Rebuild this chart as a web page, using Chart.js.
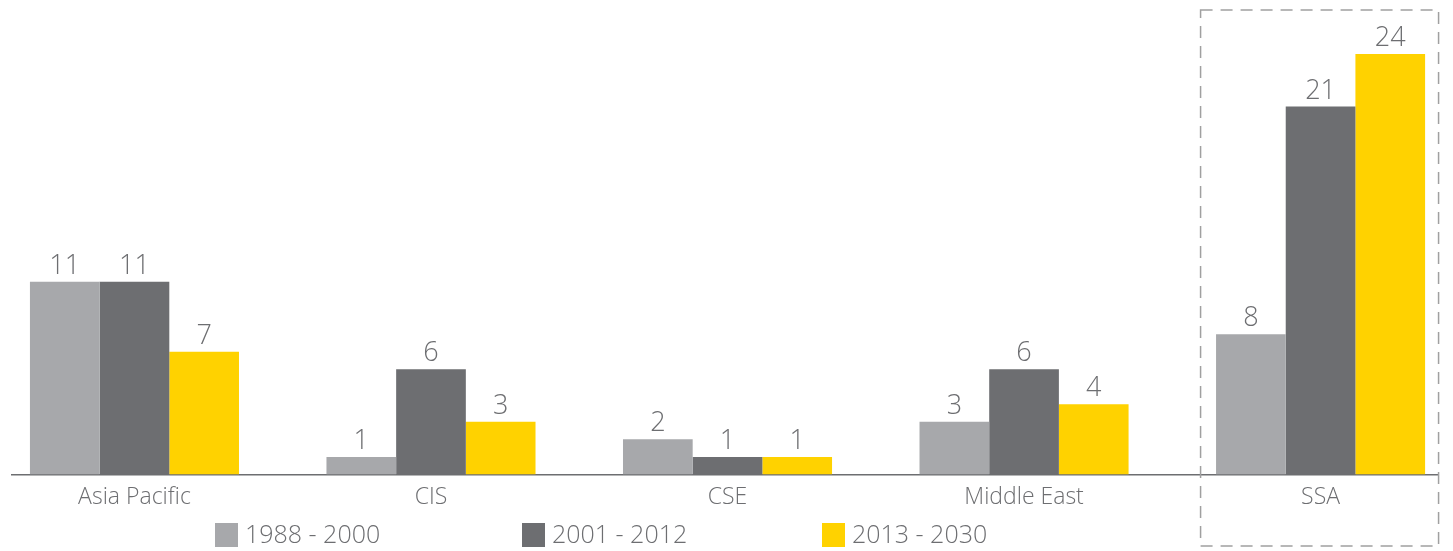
<!DOCTYPE html>
<html>
<head>
<meta charset="utf-8">
<script src="https://cdn.jsdelivr.net/npm/chart.js@4"></script>
<style>
  html, body { margin: 0; padding: 0; background: #fff; }
  #wrap { width: 1453px; height: 551px; position: relative; }
</style>
</head>
<body>
<div id="wrap"><canvas id="chart"></canvas></div>
<script>
// data
var categories = ["Asia Pacific", "CIS", "CSE", "Middle East", "SSA"];
var seriesNames = ["1988 - 2000", "2001 - 2012", "2013 - 2030"];
var values1988 = [11, 1, 2, 3, 8];
var values2001 = [11, 6, 1, 6, 21];
var values2013 = [7, 3, 1, 4, 24];
var highlighted = "SSA";

var colors = ["#a7a8ab", "#6d6e71", "#ffd200"];
var textColor = "#6d6e71";
var fontName = "'Open Sans'";

function toPoints(arr) {
  return arr.map(function (v, i) { return { x: i, y: v }; });
}

// numbers above the bars
var valueLabels = {
  id: "valueLabels",
  afterDatasetsDraw: function (chart) {
    var c = chart.ctx;
    c.save();
    c.font = "300 27px " + fontName;
    c.fillStyle = textColor;
    c.textAlign = "center";
    c.textBaseline = "alphabetic";
    chart.data.datasets.forEach(function (ds, di) {
      chart.getDatasetMeta(di).data.forEach(function (bar, i) {
        c.fillText(ds.data[i].y, bar.x, bar.y - 8);
      });
    });
    c.restore();
  }
};

// dashed frame round the highlighted category
var frameBox = {
  id: "frameBox",
  afterDraw: function (chart) {
    var c = chart.ctx;
    var x = chart.scales.x.getPixelForValue(categories.indexOf(highlighted));
    c.save();
    c.strokeStyle = "#a0a0a0";
    c.lineWidth = 1.5;
    c.setLineDash([12, 8]);
    c.strokeRect(x - 120, 10, 238, 536);
    c.restore();
  }
};

// legend drawn by hand so it sits left of centre like the original
var legendRow = {
  id: "legendRow",
  afterDraw: function (chart) {
    var c = chart.ctx;
    var starts = [215, 522, 822];
    c.save();
    c.font = "300 25px " + fontName;
    c.textBaseline = "middle";
    chart.data.datasets.forEach(function (ds, i) {
      c.fillStyle = ds.backgroundColor;
      c.fillRect(starts[i], 523, 23, 24);
      c.fillStyle = textColor;
      c.fillText(ds.label, starts[i] + 30, 536);
    });
    c.restore();
  }
};

new Chart(document.getElementById("chart"), {
  type: "bar",
  data: {
    datasets: [
      { label: seriesNames[0], data: toPoints(values1988), backgroundColor: colors[0] },
      { label: seriesNames[1], data: toPoints(values2001), backgroundColor: colors[1] },
      { label: seriesNames[2], data: toPoints(values2013), backgroundColor: colors[2] }
    ]
  },
  options: {
    responsive: true,
    maintainAspectRatio: false,
    animation: false,
    layout: { padding: { left: 12, right: 15, top: 19, bottom: 39 } },
    datasets: { bar: { categoryPercentage: 0.705, barPercentage: 1.0 } },
    plugins: {
      legend: { display: false },
      tooltip: { enabled: false }
    },
    scales: {
      x: {
        type: "linear",
        offset: false,
        min: -0.413,
        max: 4.396,
        afterBuildTicks: function (scale) {
          scale.ticks = categories.map(function (c, i) { return { value: i }; });
        },
        grid: { display: false, offset: false },
        border: { display: true, color: textColor, width: 1.5 },
        ticks: {
          autoSkip: false,
          maxRotation: 0,
          padding: 1,
          color: textColor,
          font: { family: fontName, size: 23, weight: "300" },
          callback: function (v) { return categories[v]; }
        }
      },
      y: {
        display: false,
        min: 0,
        max: 26
      }
    }
  },
  plugins: [valueLabels, frameBox, legendRow]
});
</script>
</body>
</html>
